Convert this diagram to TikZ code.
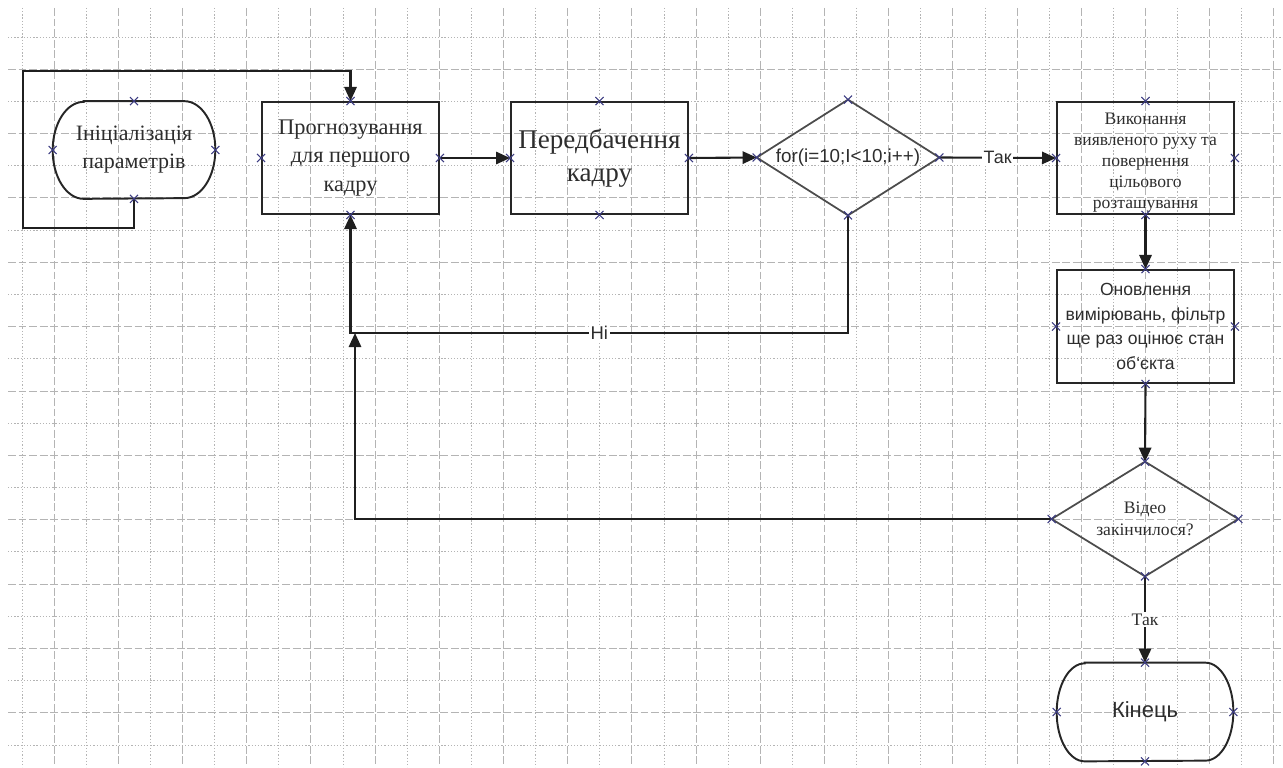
\documentclass[tikz,border=0pt]{standalone}
\usepackage{fontspec}
\setmainfont{Liberation Serif}
\setsansfont{Liberation Sans}
\usetikzlibrary{arrows.meta}
\definecolor{mk}{RGB}{60,60,130}
\definecolor{txt}{RGB}{45,45,45}
\definecolor{gridc}{RGB}{180,180,180}
\newcommand\stadiumpath[3]{%
  \draw[outline] ([xshift=#2]#1.north west) -- ([xshift=-#2]#1.north east)
    arc[start angle=90,end angle=-90,x radius=#2,y radius=#3]
    -- ([xshift=#2]#1.south west)
    arc[start angle=270,end angle=90,x radius=#2,y radius=#3] -- cycle;}
\begin{document}
\begin{tikzpicture}[x=0.02cm,y=-0.02cm,
  gdot/.style={draw=gridc,line width=0.5pt,dash pattern=on 0.7pt off 1.1pt},
  gdash/.style={draw=gridc,line width=0.5pt,dash pattern=on 4.5pt off 1.5pt},
  outline/.style={draw=black!85,line width=1.1pt},
  dshape/.style={draw=black!70,line width=1pt},
  ln/.style={draw=black!88,line width=1.2pt},
  arr/.style={ln,-{Triangle[length=8pt,width=7pt]}},
  holder/.style={rectangle,draw=none,inner sep=0pt,align=center,text=txt},
  box/.style={rectangle,draw=black!85,line width=1.1pt,inner sep=0pt,align=center,text=txt,
    minimum width=3.54cm,minimum height=2.24cm},
  lbl/.style={fill=white,inner sep=1pt,text=txt},
  xm/.pic={\draw[mk,line width=0.6pt] (-2.3pt,-2.3pt)--(2.3pt,2.3pt) (-2.3pt,2.3pt)--(2.3pt,-2.3pt);}
]
\useasboundingbox (0,0) rectangle (1283,767);
% grid
\foreach \k in {0,2,...,38}{\pgfmathsetmacro\gx{22+32.1*\k}\draw[gdot] (\gx,8) -- (\gx,767);}
\foreach \k in {1,3,...,39}{\pgfmathsetmacro\gx{22+32.1*\k}\draw[gdash] (\gx,8) -- (\gx,767);}
\foreach \k in {0,2,...,22}{\pgfmathsetmacro\gy{37+32.18*\k}\draw[gdot] (8,\gy) -- (1283,\gy);}
\foreach \k in {1,3,...,21}{\pgfmathsetmacro\gy{37+32.18*\k}\draw[gdash] (8,\gy) -- (1283,\gy);}

% nodes
\node[holder,minimum width=3.24cm,minimum height=1.94cm,
  font=\fontsize{12.5}{16}\selectfont] (init) at (134,150) {Ініціалізація\\параметрів};
\stadiumpath{init}{0.62cm}{0.97cm}
\node[box,font=\fontsize{12.7}{16}\selectfont] (b1) at (350.5,158) {Прогнозування\\для першого\\кадру};
\node[box,font=\fontsize{15.4}{18.7}\selectfont] (b2) at (599.5,158) {Передбачення\\кадру};
\node[holder,minimum width=3.64cm,minimum height=2.3cm,
  font=\sffamily\fontsize{10.7}{13}\selectfont] (d1) at (848,157.5) {for(i=10;I<10;i++)};
\draw[dshape] (d1.north) -- (d1.east) -- (d1.south) -- (d1.west) -- cycle;
\node[box,font=\fontsize{10}{11.9}\selectfont] (b3) at (1145.5,158)
  {\raisebox{-2.5pt}[\height][\depth]{\begin{tabular}{@{}c@{}}Виконання\\виявленого руху та\\повернення\\цільового\\розташування\end{tabular}}};
\node[box,minimum height=2.26cm,font=\sffamily\fontsize{10}{14}\selectfont] (b4) at (1145.5,326.5)
  {Оновлення\\вимірювань, фільтр\\ще раз оцінює стан\\об\symbol{96}єкта};
\node[holder,minimum width=3.72cm,minimum height=2.28cm,
  font=\fontsize{10}{12.5}\selectfont] (d2) at (1145,519) {Відео\\закінчилося?};
\draw[dshape] (d2.north) -- (d2.east) -- (d2.south) -- (d2.west) -- cycle;
\node[holder,minimum width=3.52cm,minimum height=1.96cm,
  font=\sffamily\fontsize{12.5}{15}\selectfont] (end) at (1145,712) {Кінець};
\stadiumpath{end}{0.56cm}{0.98cm}

% helper coordinates
\coordinate (c1) at (23,228);
\coordinate (c2) at (23,71);
\coordinate (n1) at (848,333);
\coordinate (n2) at (355,333);

% connectors
\draw[arr] (init.south) |- (c1) -- (c2) -| (b1.north);
\draw[arr] (b1.east) -- (b2.west);
\draw[arr] (b2.east) -- (d1.west);
\draw[arr] (d1.east) -- node[lbl,font=\sffamily\fontsize{10.2}{12}\selectfont]{Так} (b3.west);
\draw[arr] (b3.south) -- (b4.north);
\draw[arr] (b4.south) -- (d2.north);
\draw[arr] (d1.south) -- (n1) -| node[pos=0.25,lbl,font=\sffamily\fontsize{10.5}{12}\selectfont]{Ні} (b1.south);
\draw[arr] (d2.west) -| (n2);
\draw[arr] (d2.south) -- node[lbl,font=\fontsize{10}{12}\selectfont]{Так} (end.north);

% connection markers
\foreach \n in {init,b1,b2,d1,b3,b4,d2,end}{
  \foreach \a in {north,south,east,west}{\pic at (\n.\a) {xm};}}
\end{tikzpicture}
\end{document}
